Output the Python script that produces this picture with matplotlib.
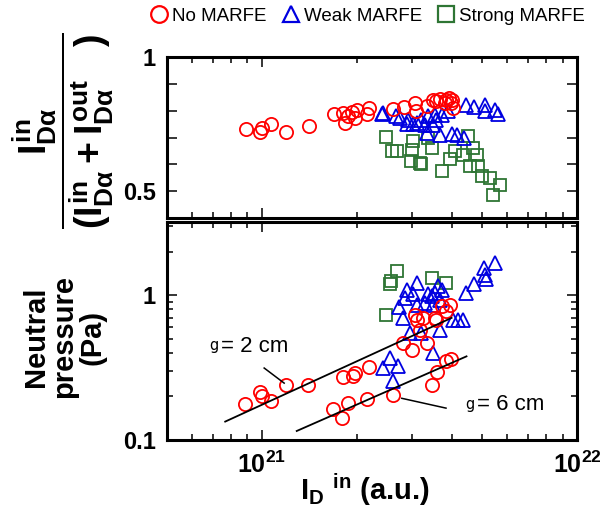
import math
import matplotlib
matplotlib.use("Agg")
import matplotlib.pyplot as plt
from matplotlib.lines import Line2D
from matplotlib.ticker import FuncFormatter, LogLocator, NullFormatter, MultipleLocator

plt.rcParams['font.family'] = ['Liberation Sans', 'DejaVu Sans']
plt.rcParams['mathtext.fontset'] = 'custom'
plt.rcParams['mathtext.rm'] = 'Liberation Sans:bold'
plt.rcParams['mathtext.it'] = 'Liberation Sans:bold'
plt.rcParams['mathtext.bf'] = 'Liberation Sans:bold'
plt.rcParams['mathtext.sf'] = 'Liberation Sans:bold'

# ---------------- data (x in units of 1e21) ----------------
no_top_x = [0.89, 0.99, 1.00, 1.07, 1.19, 1.41, 1.69, 1.81, 1.83, 1.88, 1.93, 1.98, 2.00, 2.15, 2.19,
            2.61, 2.83, 3.07, 3.08, 3.33, 3.50, 3.58, 3.67, 3.81, 3.85, 3.93, 3.98, 4.00, 4.03]
no_top_y = [0.732, 0.720, 0.735, 0.749, 0.722, 0.744, 0.789, 0.791, 0.754, 0.779, 0.795, 0.773, 0.801, 0.789, 0.809,
            0.806, 0.814, 0.829, 0.798, 0.816, 0.841, 0.835, 0.843, 0.829, 0.841, 0.847, 0.829, 0.838, 0.810]

weak_top_x = [2.40, 2.42, 2.67, 2.74, 2.91, 2.88, 3.10, 3.21, 3.37, 3.54, 3.72, 3.90, 4.46, 4.71, 5.10,
              5.10, 5.49, 5.62, 3.29, 3.50, 3.33, 3.67, 4.00, 4.17, 4.37, 3.02, 3.58]
weak_top_y = [0.788, 0.791, 0.779, 0.773, 0.766, 0.750, 0.754, 0.766, 0.779, 0.785, 0.785, 0.798, 0.820, 0.812, 0.820,
              0.800, 0.804, 0.788, 0.748, 0.745, 0.717, 0.708, 0.713, 0.708, 0.698, 0.750, 0.766]

strong_top_x = [2.48, 2.58, 2.69, 3.02, 2.99, 2.97, 3.21, 3.46, 3.37, 3.72, 3.95, 4.10, 4.35, 4.51, 4.57,
                4.80, 4.86, 4.68, 4.98, 5.29, 5.69, 5.42, 3.17]
strong_top_y = [0.701, 0.648, 0.648, 0.688, 0.655, 0.614, 0.601, 0.661, 0.698, 0.576, 0.621, 0.648, 0.636, 0.704, 0.593,
                0.636, 0.593, 0.661, 0.555, 0.549, 0.524, 0.487, 0.605]

no_bot_x = [0.886, 0.983, 1.00, 1.07, 1.19, 1.40, 1.81, 1.95, 1.97, 2.18, 1.68, 1.79, 1.88, 2.15, 2.61,
            2.81, 2.99, 3.33, 3.46, 3.60, 3.85, 3.98, 3.06, 3.10, 3.25, 3.17, 3.54, 3.58, 3.72, 3.95, 3.85]
no_bot_y = [0.177, 0.213, 0.202, 0.186, 0.240, 0.240, 0.272, 0.275, 0.291, 0.319, 0.163, 0.143, 0.181, 0.192, 0.205,
            0.467, 0.416, 0.467, 0.240, 0.297, 0.349, 0.362, 0.735, 0.678, 0.696, 0.578, 0.696, 0.678, 0.839, 0.862, 0.775]

weak_bot_x = [5.49, 5.08, 5.10, 5.16, 4.71, 4.46, 3.11, 2.89, 3.02, 2.84, 2.73, 2.81, 3.10, 3.29, 3.37,
              3.63, 3.72, 3.54, 3.67, 3.50, 3.46, 4.05, 4.20, 4.35, 3.67, 2.95, 3.50, 2.55, 2.71, 2.43, 3.21, 2.60]
weak_bot_y = [1.675, 1.546, 1.368, 1.297, 1.186, 1.038, 1.217, 1.083, 1.011, 0.958, 0.830, 0.697, 0.862, 0.885, 1.011,
              1.154, 1.083, 1.038, 0.933, 0.862, 0.984, 0.671, 0.671, 0.671, 0.578, 0.548, 0.398, 0.368, 0.322, 0.314, 0.548, 0.254]

strong_bot_x = [2.69, 2.56, 2.55, 3.46, 3.84, 2.47]
strong_bot_y = [1.466, 1.250, 1.185, 1.318, 1.205, 0.735]

# fit lines (end points) for the two gap values
fit2_x = [0.765, 4.00]
fit2_y = [0.134, 0.697]
fit6_x = [1.29, 4.46]
fit6_y = [0.1154, 0.378]

SCALE = 1e21
labels = ['No MARFE', 'Weak MARFE', 'Strong MARFE']

RED = '#ff0000'
BLUE = '#0000e0'
GREEN = '#2e7534'

W, H = 609, 523
fig = plt.figure(figsize=(W / 100, H / 100), dpi=100)

L, R = 167 / W, 577 / W
ax1 = fig.add_axes([L, 1 - 218 / H, R - L, 161 / H])
ax2 = fig.add_axes([L, 1 - 440 / H, R - L, 218 / H])

def sx(v):
    return [a * SCALE for a in v]

ms = 9.5
mew = 1.3
for ax, (sqx, sqy), (trx, try_), (cx, cy) in [
        (ax1, (strong_top_x, strong_top_y), (weak_top_x, weak_top_y), (no_top_x, no_top_y)),
        (ax2, (strong_bot_x, strong_bot_y), (weak_bot_x, weak_bot_y), (no_bot_x, no_bot_y))]:
    ax.plot(sx(sqx), sqy, ls='none', marker='s', ms=ms - 0.5, mfc='none', mec=GREEN, mew=mew)
    ax.plot(sx(trx), try_, ls='none', marker='^', ms=ms, mfc='none', mec=BLUE, mew=mew)
    ax.plot(sx(cx), cy, ls='none', marker='o', ms=ms, mfc='none', mec=RED, mew=mew)

ax2.plot(sx(fit2_x), fit2_y, color='black', lw=1.3)
ax2.plot(sx(fit6_x), fit6_y, color='black', lw=1.3)

for ax in (ax1, ax2):
    ax.set_xscale('log')
    ax.set_xlim(5e20, 1e22)
    for s in ax.spines.values():
        s.set_linewidth(2.2)
    ax.tick_params(which='both', direction='in', top=True, right=True, width=1.1)
    ax.tick_params(which='major', length=7)
    ax.tick_params(which='minor', length=4)
    ax.xaxis.set_major_locator(LogLocator(base=10, numticks=5))
    ax.xaxis.set_minor_locator(LogLocator(base=10, subs=range(2, 10), numticks=20))
    ax.xaxis.set_minor_formatter(NullFormatter())

ax1.tick_params(axis='x', which='both', labelbottom=False)
ax1.set_ylim(0.4, 1.0)
ax1.yaxis.set_major_locator(MultipleLocator(0.1))
ax1.yaxis.set_major_formatter(FuncFormatter(
    lambda v, p: '1' if abs(v - 1) < 1e-6 else ('0.5' if abs(v - 0.5) < 1e-6 else '')))

ax2.set_yscale('log')
ax2.set_ylim(0.1, 3.2)
ax2.yaxis.set_major_formatter(FuncFormatter(lambda v, p: '1' if abs(v - 1) < 1e-6 else ('0.1' if abs(v - 0.1) < 1e-6 else '')))
ax2.yaxis.set_minor_formatter(NullFormatter())
ax2.xaxis.set_major_formatter(FuncFormatter(lambda v, p: r'$\mathbf{10^{%d}}$' % round(math.log10(v))))

for ax in (ax1, ax2):
    ax.tick_params(axis='y', labelsize=17, pad=8)
    for t in ax.get_yticklabels():
        t.set_fontweight('bold')
ax2.tick_params(axis='x', labelsize=18, pad=8)

# annotations
ax2.text(6.8e20, 0.443, r'${}_{\mathrm{g}}$', fontsize=15, va='center', ha='left',
         math_fontfamily='dejavusans')
ax2.text(7.4e20, 0.443, '= 2 cm', fontsize=16, va='center', ha='left')
ax2.plot([1.017e21, 1.177e21], [0.314, 0.247], color='black', lw=1.1)
ax2.text(4.41e21, 0.172, r'${}_{\mathrm{g}}$', fontsize=15, va='center', ha='left',
         math_fontfamily='dejavusans')
ax2.text(4.8e21, 0.175, '= 6 cm', fontsize=16, va='center', ha='left')
ax2.plot([2.78e21, 3.84e21], [0.194, 0.166], color='black', lw=1.1)

# axis labels
fig.text(0.60, 1 - 490 / H, r'$\mathbf{I_D\ {}^{in}}$ (a.u.)', fontsize=21, fontweight='bold',
         ha='center', va='center')
fig.text(64 / W, 1 - 337 / H, 'Neutral\npressure\n(Pa)', fontsize=21, fontweight='bold',
         rotation=90, ha='center', va='center', linespacing=1.0)
fig.text(63 / W, 1 - 131 / H,
         r'$\dfrac{I_{D\alpha}^{in}}{(I_{D\alpha}^{in} + I_{D\alpha}^{out}\ \ \ )}$',
         fontsize=27, rotation=90, ha='center', va='center')

# legend
handles = [Line2D([], [], ls='none', marker='o', ms=12, mfc='none', mec=RED, mew=1.6),
           Line2D([], [], ls='none', marker='^', ms=12, mfc='none', mec=BLUE, mew=1.6),
           Line2D([], [], ls='none', marker='s', ms=11, mfc='none', mec=GREEN, mew=1.6)]
fig.legend(handles, labels, loc='center', bbox_to_anchor=(0.603, 1 - 16 / H), ncol=3, frameon=False,
           fontsize=13.5, handletextpad=0.2, columnspacing=0.8, handlelength=1.0, borderpad=0)

fig.savefig('out.png', dpi=100)
